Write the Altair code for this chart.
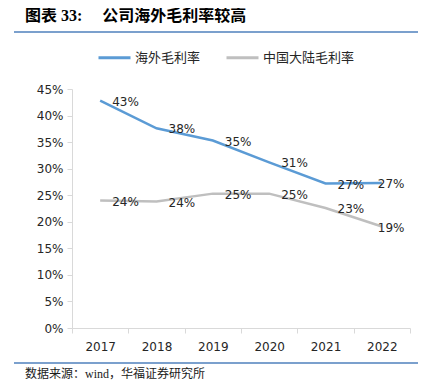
import altair as alt
import pandas as pd

years = ["2017", "2018", "2019", "2020", "2021", "2022"]
overseas = [0.428, 0.376, 0.353, 0.312, 0.272, 0.273]
mainland = [0.240, 0.238, 0.253, 0.253, 0.226, 0.191]
series_names = ["海外毛利率", "中国大陆毛利率"]
colors = ["#5B9BD5", "#BFBFBF"]
y_ticks = [0, 0.05, 0.10, 0.15, 0.20, 0.25, 0.30, 0.35, 0.40, 0.45]
title_text = "图表 33:\u00a0\u00a0\u00a0\u00a0\u00a0公司海外毛利率较高"
source_text = "数据来源：wind，华福证券研究所"

rows = []
for y, a, b in zip(years, overseas, mainland):
    rows.append({"year": y, "series": series_names[0], "value": a})
    rows.append({"year": y, "series": series_names[1], "value": b})
df = pd.DataFrame(rows)

num_font = "DejaVu Sans"
cjk_font = "Noto Sans CJK SC"
serif_mix = "Liberation Serif, Noto Sans CJK SC"

x_enc = alt.X(
    "year:N",
    title=None,
    sort=years,
    scale=alt.Scale(type="band", paddingInner=0, paddingOuter=0),
    axis=alt.Axis(
        labelAngle=0, tickBand="extent", domainColor="#D9D9D9", tickColor="#D9D9D9",
        tickSize=5, labelPadding=8, labelFont=num_font, labelFontSize=12,
        labelColor="#262626", grid=False,
    ),
)
y_enc = alt.Y(
    "value:Q",
    title=None,
    scale=alt.Scale(domain=[0, 0.45], nice=False),
    axis=alt.Axis(
        values=y_ticks, format=".0%", domainColor="#D9D9D9", tickColor="#D9D9D9",
        tickSize=5, labelPadding=4, labelFont=num_font, labelFontSize=12,
        labelColor="#262626", grid=False, labelOverlap=False, labelBound=False,
    ),
)
color_enc = alt.Color(
    "series:N",
    sort=series_names,
    scale=alt.Scale(domain=series_names, range=colors),
    legend=alt.Legend(
        title=None, orient="none", direction="horizontal", legendX=25, legendY=-49,
        symbolType="stroke", symbolSize=1024, symbolStrokeWidth=3,
        labelFont=cjk_font, labelFontSize=13, labelColor="#262626",
        labelOffset=3, columnPadding=19, padding=0,
    ),
)

base = alt.Chart(df)
lines = base.mark_line(strokeWidth=2.5).encode(x=x_enc, y=y_enc, color=color_enc)

labels_main = base.transform_filter(alt.datum.year != "2022").mark_text(
    align="left", baseline="middle", dx=12, dy=1, font=num_font, fontSize=12, color="#262626"
).encode(x=x_enc, y=y_enc, text=alt.Text("value:Q", format=".0%"))
labels_last = base.transform_filter(alt.datum.year == "2022").mark_text(
    align="left", baseline="middle", dx=-4, dy=1, font=num_font, fontSize=12, color="#262626"
).encode(x=x_enc, y=y_enc, text=alt.Text("value:Q", format=".0%"))

deco = alt.Chart(pd.DataFrame({"k": [0]}))
title = deco.mark_text(
    align="left", baseline="middle", font=serif_mix, fontSize=16, fontWeight="bold", color="#000000"
).encode(x=alt.value(-47), y=alt.value(-73), text=alt.value(title_text))
top_rule = deco.mark_rule(color="#4F81BD", strokeWidth=1.5).encode(
    x=alt.value(-58), x2=alt.value(346), y=alt.value(-57)
)
bottom_rule = deco.mark_rule(color="#4F81BD", strokeWidth=1.5).encode(
    x=alt.value(-58), x2=alt.value(346), y=alt.value(274)
)
source = deco.mark_text(
    align="left", baseline="middle", font=serif_mix, fontSize=12, color="#1a1a1a"
).encode(x=alt.value(-47), y=alt.value(285), text=alt.value(source_text))

chart = alt.layer(lines, labels_main, labels_last, title, top_rule, bottom_rule, source).properties(
    width=338, height=239,
    autosize=alt.AutoSizeParams(type="none"),
    padding={"left": 64, "top": 81, "right": 16, "bottom": 58},
).configure_view(stroke=None)

chart.save("out.html", embed_options={"renderer": "svg", "actions": False})
